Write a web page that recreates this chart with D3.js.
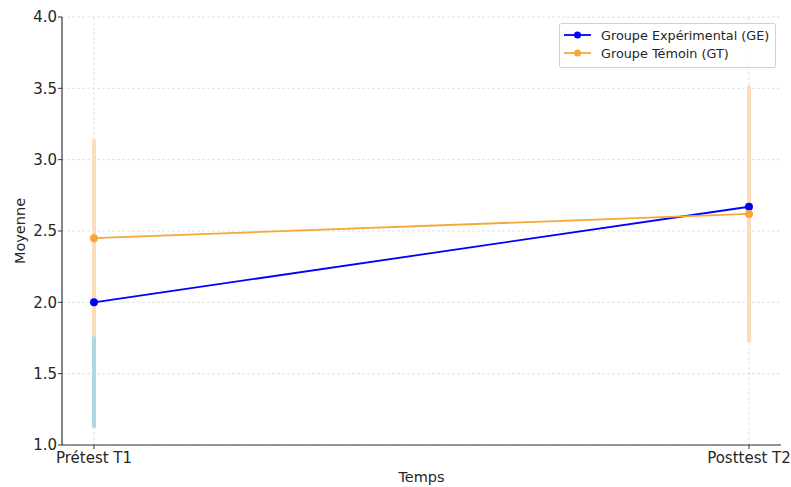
<!DOCTYPE html>
<html><head><meta charset="utf-8">
<script src="https://cdn.jsdelivr.net/npm/d3@7/dist/d3.min.js"></script>
<style>body{margin:0;background:#fff}svg{display:block}text{font-family:"DejaVu Sans",sans-serif}</style>
</head><body><svg id="c" width="791" height="487"></svg>
<script>
const categories = ["Prétest T1", "Posttest T2"];
const geMeans = [2.00, 2.67];
const geErr = [0.88, 0.80];
const gtMeans = [2.45, 2.62];
const gtErr = [0.69, 0.90];
const yTicks = [1.0, 1.5, 2.0, 2.5, 3.0, 3.5, 4.0];
const seriesNames = ["Groupe Expérimental (GE)", "Groupe Témoin (GT)"];

const svg = d3.select("#c");
const m = {l:62, r:10, t:17, b:42};
const W = 791, H = 487;
const x = d3.scalePoint().domain(categories).range([94, 749]);
const y = d3.scaleLinear().domain([1, 4]).range([H - m.b, m.t]);
const xr = [m.l, W - m.r];
const txt = "#262626";

// grid
const g = svg.append("g");
yTicks.forEach(t => g.append("line").attr("x1", xr[0]).attr("x2", xr[1]).attr("y1", y(t)).attr("y2", y(t))
  .attr("stroke", "#d9d9d9").attr("stroke-width", 0.8).attr("stroke-dasharray", "3,2"));
categories.forEach(c => g.append("line").attr("x1", x(c)).attr("x2", x(c)).attr("y1", y(1)).attr("y2", y(4))
  .attr("stroke", "#d9d9d9").attr("stroke-width", 0.8).attr("stroke-dasharray", "3,2"));

const series = [
  {means: geMeans, err: geErr, color: "#0000ff", ecolor: "#add8e6"},
  {means: gtMeans, err: gtErr, color: "#f6a737", ecolor: "#fcdcbb"}
];
// error bars
series.forEach(s => {
  categories.forEach((c, i) => {
    svg.append("line").attr("x1", x(c)).attr("x2", x(c))
      .attr("y1", y(s.means[i] - s.err[i])).attr("y2", y(s.means[i] + s.err[i]))
      .attr("stroke", s.ecolor).attr("stroke-width", 4);
  });
});
// lines + markers
const line = d3.line().x((d, i) => x(categories[i])).y(d => y(d));
series.forEach(s => {
  svg.append("path").attr("d", line(s.means)).attr("fill", "none").attr("stroke", s.color).attr("stroke-width", 1.8);
  s.means.forEach((v, i) => svg.append("circle").attr("cx", x(categories[i])).attr("cy", y(v)).attr("r", 4).attr("fill", s.color));
});

// axes
const ax = svg.append("g");
ax.append("line").attr("x1", xr[0]).attr("x2", xr[0]).attr("y1", y(4)).attr("y2", y(1)).attr("stroke", "#333").attr("stroke-width", 1.2);
ax.append("line").attr("x1", xr[0]).attr("x2", xr[1]).attr("y1", y(1)).attr("y2", y(1)).attr("stroke", "#333").attr("stroke-width", 1.2);
yTicks.forEach(t => {
  ax.append("line").attr("x1", xr[0] - 4).attr("x2", xr[0]).attr("y1", y(t)).attr("y2", y(t)).attr("stroke", "#333");
  ax.append("text").attr("x", xr[0] - 5).attr("y", y(t)).attr("dy", "0.36em").attr("text-anchor", "end")
    .attr("font-size", 15).attr("fill", txt).text(t.toFixed(1));
});
categories.forEach(c => {
  ax.append("line").attr("x1", x(c)).attr("x2", x(c)).attr("y1", y(1)).attr("y2", y(1) + 4).attr("stroke", "#333");
  ax.append("text").attr("x", x(c)).attr("y", y(1) + 18).attr("text-anchor", "middle")
    .attr("font-size", 15).attr("fill", txt).text(c);
});
svg.append("text").attr("x", (xr[0] + xr[1]) / 2).attr("y", 482).attr("text-anchor", "middle")
  .attr("font-size", 14.5).attr("fill", txt).text("Temps");
svg.append("text").attr("transform", `translate(25,${(y(1) + y(4)) / 2}) rotate(-90)`).attr("text-anchor", "middle")
  .attr("font-size", 14.5).attr("fill", txt).text("Moyenne");

// legend
const lg = svg.append("g");
lg.append("rect").attr("x", 559.5).attr("y", 23.5).attr("width", 216).attr("height", 44).attr("rx", 2)
  .attr("fill", "#fff").attr("fill-opacity", 0.85).attr("stroke", "#d0d0d0");
series.forEach((s, i) => {
  const yy = 35 + i * 18;
  lg.append("line").attr("x1", 564).attr("x2", 591).attr("y1", yy).attr("y2", yy).attr("stroke", s.color).attr("stroke-width", 1.8);
  lg.append("circle").attr("cx", 577.5).attr("cy", yy).attr("r", 3.5).attr("fill", s.color);
  lg.append("text").attr("x", 601).attr("y", yy).attr("dy", "0.36em").attr("font-size", 12.8).attr("fill", txt).text(seriesNames[i]);
});
</script></body></html>
